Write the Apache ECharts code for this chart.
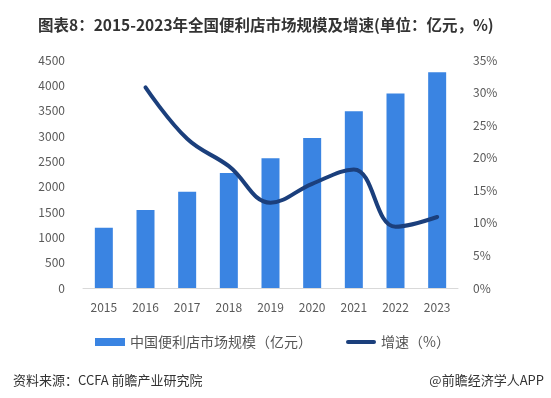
<!DOCTYPE html>
<html>
<head>
<meta charset="utf-8">
<script src="https://cdn.jsdelivr.net/npm/echarts@6/dist/echarts.min.js"></script>
<style>
html,body{margin:0;padding:0;background:#fff;}
#main{width:551px;height:398px;}
</style>
</head>
<body>
<div id="main"></div>
<script>
// 年份
var years = ['2015','2016','2017','2018','2019','2020','2021','2022','2023'];
// 市场规模（亿元）
var scale = [1190, 1540, 1900, 2270, 2560, 2960, 3490, 3840, 4260];
// 增速（%）
var growth = [null, 30.8, 22.9, 18.7, 13.1, 16.0, 18.2, 9.4, 10.9];

var myChart = echarts.init(document.getElementById('main'));
var font = '"Microsoft YaHei","Noto Sans CJK SC",sans-serif';
option = {
	backgroundColor: '#fff',
	title: [
		{
			text: '图表8：2015-2023年全国便利店市场规模及增速(单位：亿元，%)',
			left: 33,
			top: 12,
			textStyle: {fontSize: 15.5, fontWeight: 'bold', color: '#333', fontFamily: font}
		},
		{
			text: '资料来源：CCFA 前瞻产业研究院',
			left: 8,
			top: 369,
			textStyle: {fontSize: 13, fontWeight: 'normal', color: '#333', fontFamily: font}
		},
		{
			text: '@前瞻经济学人APP',
			right: 2,
			top: 369,
			textStyle: {fontSize: 13, fontWeight: 'normal', color: '#333', fontFamily: font}
		}
	],
	legend: {
		left: 90,
		top: 330,
		itemWidth: 30,
		itemHeight: 8,
		itemGap: 34,
		textStyle: {fontSize: 14, color: '#555', fontFamily: font},
		data: [
			{name: '中国便利店市场规模（亿元）', icon: 'rect'},
			{name: '增速（%）', icon: 'path://M2,0 L28,0 A2,2 0 0 1 28,4 L2,4 A2,2 0 0 1 2,0 Z'}
		]
	},
	grid: {left: 83, right: 93, top: 60, bottom: 110},
	xAxis: {
		type: 'category',
		data: years,
		axisTick: {show: false},
		axisLine: {lineStyle: {color: '#d9d9d9'}},
		axisLabel: {color: '#595959', fontSize: 12, margin: 13, fontFamily: font}
	},
	yAxis: [
		{
			type: 'value',
			min: 0,
			max: 4500,
			interval: 500,
			splitLine: {show: false},
			axisLine: {show: false},
			axisTick: {show: false},
			axisLabel: {color: '#595959', fontSize: 12, margin: 18, fontFamily: font,
				formatter: function (v) { return String(v); }}
		},
		{
			type: 'value',
			min: 0,
			max: 35,
			interval: 5,
			splitLine: {show: false},
			axisLine: {show: false},
			axisTick: {show: false},
			axisLabel: {color: '#595959', fontSize: 12, margin: 15, formatter: '{value}%', fontFamily: font}
		}
	],
	series: [
		{
			name: '中国便利店市场规模（亿元）',
			type: 'bar',
			barWidth: 18,
			itemStyle: {color: '#3a84e2'},
			data: scale
		},
		{
			name: '增速（%）',
			type: 'line',
			yAxisIndex: 1,
			smooth: 0.4,
			symbol: 'none',
			lineStyle: {width: 4, color: '#1b3f7c', cap: 'round'},
			itemStyle: {color: '#1b3f7c'},
			data: growth
		}
	]
};
myChart.setOption(option, true);
</script>
</body>
</html>
